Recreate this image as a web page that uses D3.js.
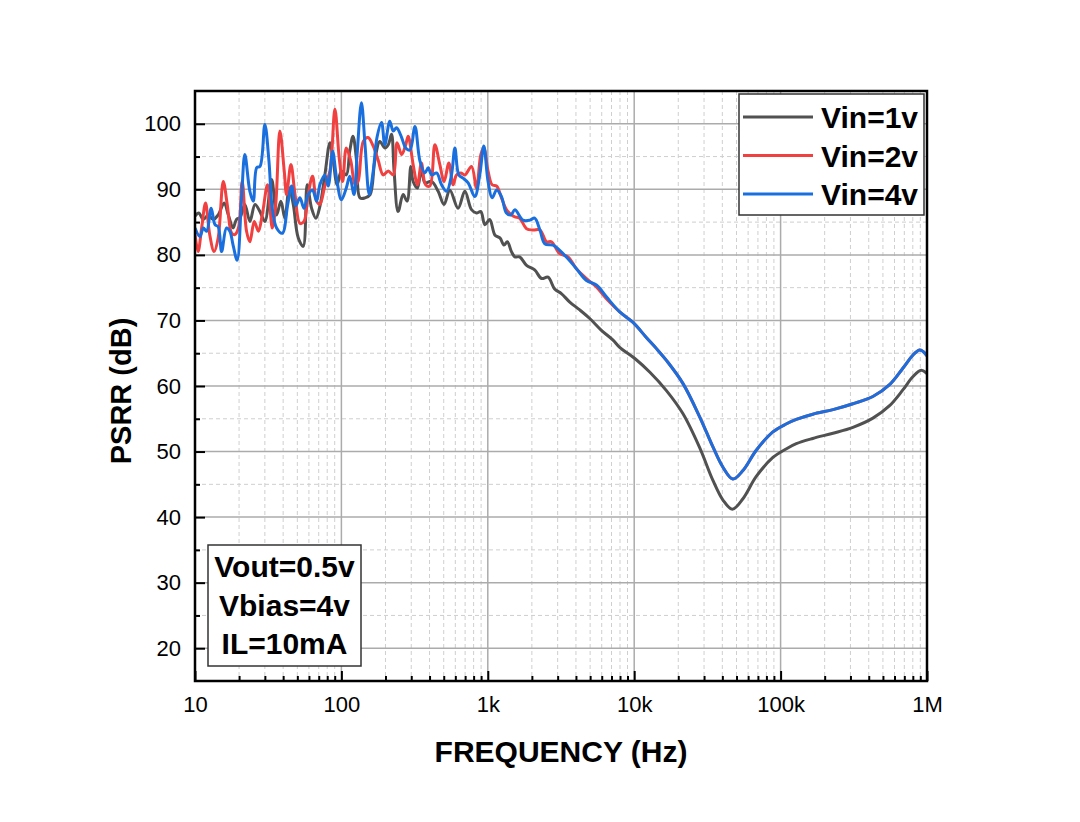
<!DOCTYPE html>
<html><head><meta charset="utf-8">
<script src="https://cdn.jsdelivr.net/npm/d3@7"></script>
<style>
html,body{margin:0;padding:0;background:#fff;}
svg text{font-family:Arial,"Liberation Sans",Helvetica,sans-serif;}
</style></head>
<body><svg id="chart" width="1080" height="822"></svg>
<script>
// ---------- data ----------
const seriesNames = ["Vin=1v", "Vin=2v", "Vin=4v"];
const seriesColors = ["#515151", "#F14040", "#1A6FDF"];

const freqV1 = [10,10.6,11.4,12.3,13.3,14.4,15.8,16.9,18.2,19.2,20.3,21.9,23.7,25.7,27.8,30.0,33.4,36.1,38.6,41.1,44.0,46.9,50.7,54.8,58.4,62.6,67.0,71.3,77.1,83.5,88.0,93.6,100,108,114,120,127,134,145,157,169,183,198,209,220,229,244,264,281,298,309,331,352,372,413,458,503,550,627,697,774,837,896,955,1030,1120,1210,1290,1360,1450,1530,1650,1840,2090,2330,2580,2860,3180,3630,4250,4970,5970,7170,7960,10100,12800,16600,21500,28000,34500,40400,46800,55300,68200,88600,109000,128000,166000,228000,312000,427000,555000,684000,800000,912000,1000000];
const psrrV1 = [85.9,86.4,85.4,86.1,85.4,86.1,87.9,86.1,84.1,85.4,85.7,87.7,85.1,87.7,86.6,85.1,91.5,86.1,88.2,85.6,90.2,87.7,82.6,81.3,90.7,87.1,85.6,87.4,92.2,97.1,94.3,90.7,92.8,92.2,95.8,98.1,94.3,88.7,88.7,89.2,94.3,97.3,96.3,96.8,98.4,92.8,86.6,89.2,88.2,93.5,91.2,90.2,93.3,91.0,91.2,89.7,87.7,89.9,87.1,89.7,86.9,86.4,86.6,84.6,85.4,83.0,82.6,81.5,82.0,80.5,79.7,79.7,78.4,77.7,76.4,76.6,74.8,74.1,72.8,71.6,70.3,68.5,67.0,65.9,64.2,62.1,59.3,55.8,50.6,45.6,42.6,41.2,42.8,46.2,49.1,50.4,51.2,52.0,52.8,53.7,55.1,57.0,59.4,61.4,62.4,61.9];

const freqV2 = [10,10.5,11.1,11.8,12.6,13.5,14.4,15.6,16.6,17.8,18.7,19.8,21.0,22.5,23.7,25.4,27.1,28.8,31.3,33.7,35.6,38.0,40.7,42.2,45.2,48.2,52.1,55.5,59.3,63.5,67.7,71.3,77.1,83.5,90.3,96.6,102,108,116,124,130,141,152,165,178,193,209,226,240,258,275,286,309,331,352,376,402,435,470,503,542,580,611,654,697,774,837,896,939,1004,1070,1150,1240,1340,1450,1530,1650,1840,2040,2270,2520,2720,3100,3530,4030,4720,5520,6460,7960,9820,12100,14200,16600,21500,28000,34500,40400,47200,55300,68200,88600,109000,128000,166000,228000,312000,427000,555000,684000,800000,889000,936000,1000000];
const psrrV2 = [83.1,80.5,84.1,87.9,83.1,80.5,82.6,91.2,87.7,83.3,83.1,84.1,91.2,83.6,82.0,85.1,83.6,86.1,90.7,84.1,87.7,98.9,92.8,89.2,93.8,89.2,84.8,85.1,89.2,92.0,88.2,87.7,90.5,92.8,102.2,94.8,91.2,96.3,94.3,90.7,91.2,97.3,97.9,96.6,94.5,92.2,92.8,92.2,97.1,95.3,96.8,98.1,93.8,90.7,94.0,90.7,90.5,96.8,93.8,91.2,94.0,90.7,92.2,92.5,92.2,93.5,90.2,95.3,96.3,92.8,90.7,90.5,88.7,86.9,86.1,85.8,85.6,84.0,83.8,83.8,82.0,82.0,80.2,79.7,77.9,76.4,75.1,73.3,71.3,69.7,67.4,65.7,63.9,60.4,55.3,50.7,47.6,45.8,47.1,50.2,53.0,54.2,54.9,55.7,56.4,57.3,58.4,60.2,62.7,64.7,65.5,65.3,64.6];

const freqV4 = [10,10.8,11.4,12.0,12.9,13.7,14.4,15.2,16.4,17.3,18.2,19.4,20.8,21.9,23.7,25.0,26.4,27.8,30.0,32.0,33.7,36.1,39.5,43.0,45.7,48.7,52.1,55.5,59.3,63.5,67.7,71.3,77.1,81.3,87.1,92.7,100,108,114,122,128,137,145,155,165,175,188,198,214,226,238,258,275,294,318,344,372,392,413,447,483,523,565,596,634,678,734,815,881,939,1004,1070,1150,1240,1340,1440,1530,1740,1940,2090,2270,2450,2790,3100,3530,4030,4720,5520,6460,7960,9820,12100,14200,16600,21500,28000,34500,40400,47200,55300,68200,88600,109000,128000,166000,228000,312000,427000,555000,684000,800000,889000,936000,1000000];
const psrrV4 = [84.1,82.8,84.1,83.6,87.1,84.6,84.3,80.5,84.1,83.6,81.5,79.2,88.7,95.3,89.7,88.2,93.3,93.5,99.9,94.3,87.1,84.1,83.3,87.7,90.5,87.5,88.7,87.1,89.2,89.9,88.2,90.7,92.2,90.5,95.8,91.7,88.4,90.2,92.0,89.2,95.3,103.2,96.8,89.2,92.8,97.9,100.2,96.8,100.4,98.9,99.4,97.9,96.3,96.0,99.6,94.3,92.5,93.3,92.2,92.5,90.7,89.7,92.2,96.3,92.2,91.7,91.0,88.9,92.2,96.6,91.2,88.7,89.9,88.9,86.4,86.1,86.9,85.3,85.3,85.6,83.8,81.7,81.5,80.7,79.4,77.9,76.1,75.4,73.6,71.3,69.7,67.4,65.7,63.9,60.4,55.3,50.7,47.6,45.8,47.1,50.2,53.0,54.2,54.9,55.7,56.4,57.3,58.4,60.2,62.7,64.7,65.5,65.3,64.6];

const xTickValues = [10, 100, 1000, 10000, 100000, 1000000];
const xTickLabels = ["10", "100", "1k", "10k", "100k", "1M"];
const yTickValues = [20, 30, 40, 50, 60, 70, 80, 90, 100];
const yMinorValues = [25, 35, 45, 55, 65, 75, 85, 95];
const noteLines = ["Vout=0.5v", "Vbias=4v", "IL=10mA"];
const xTitle = "FREQUENCY (Hz)";
const yTitle = "PSRR (dB)";

// ---------- layout ----------
const L = 195, R = 927, T = 91, B = 681;
const svg = d3.select("#chart");
const x = d3.scaleLog().domain([10, 1e6]).range([L, R]);
const y = d3.scaleLinear().domain([15, 105]).range([B, T]);

const xMinor = [];
for (let d = 10; d < 1e6; d *= 10) for (let k = 2; k <= 9; k++) xMinor.push(d * k);

// grid
const grid = svg.append("g");
grid.selectAll(".gxm").data(xMinor).join("line")
  .attr("x1", d => x(d)).attr("x2", d => x(d)).attr("y1", T).attr("y2", B)
  .attr("stroke", "#cfcfcf").attr("stroke-width", 1).attr("stroke-dasharray", "4,3");
grid.selectAll(".gym").data(yMinorValues).join("line")
  .attr("x1", L).attr("x2", R).attr("y1", d => y(d)).attr("y2", d => y(d))
  .attr("stroke", "#cfcfcf").attr("stroke-width", 1).attr("stroke-dasharray", "4,3");
grid.selectAll(".gxM").data(xTickValues.slice(1, -1)).join("line")
  .attr("x1", d => x(d)).attr("x2", d => x(d)).attr("y1", T).attr("y2", B)
  .attr("stroke", "#ababab").attr("stroke-width", 1.5);
grid.selectAll(".gyM").data(yTickValues).join("line")
  .attr("x1", L).attr("x2", R).attr("y1", d => y(d)).attr("y2", d => y(d))
  .attr("stroke", "#ababab").attr("stroke-width", 1.5);

// curves
svg.append("clipPath").attr("id", "clip").append("rect")
  .attr("x", L).attr("y", T).attr("width", R - L).attr("height", B - T);
const line = d3.line().x(d => x(d[0])).y(d => y(d[1])).curve(d3.curveCatmullRom.alpha(0.5));
const series = [
  d3.zip(freqV1, psrrV1),
  d3.zip(freqV2, psrrV2),
  d3.zip(freqV4, psrrV4)
];
const plot = svg.append("g").attr("clip-path", "url(#clip)");
series.forEach((s, i) => {
  plot.append("path").datum(s).attr("d", line)
    .attr("fill", "none").attr("stroke", seriesColors[i])
    .attr("stroke-width", 3).attr("stroke-linejoin", "round");
});

// axes
const xAxis = d3.axisBottom(x).tickValues(xTickValues)
  .tickFormat((d, i) => xTickLabels[i]).tickSize(-10).tickPadding(15);
const gx = svg.append("g").attr("transform", `translate(0,${B})`).call(xAxis);
const gxm = svg.append("g").attr("transform", `translate(0,${B})`)
  .call(d3.axisBottom(x).tickValues(xMinor).tickFormat("").tickSize(-5));
const yAxis = d3.axisLeft(y).tickValues(yTickValues).tickSize(-10).tickPadding(14);
const gy = svg.append("g").attr("transform", `translate(${L},0)`).call(yAxis);
const gym = svg.append("g").attr("transform", `translate(${L},0)`)
  .call(d3.axisLeft(y).tickValues(yMinorValues).tickFormat("").tickSize(-5));
[gx, gxm, gy, gym].forEach(g => {
  g.select(".domain").remove();
  g.selectAll(".tick line").attr("stroke", "#000").attr("stroke-width", 2);
  g.selectAll("text").attr("fill", "#000").attr("font-size", 22);
});

// frame
svg.append("rect").attr("x", L).attr("y", T).attr("width", R - L).attr("height", B - T)
  .attr("fill", "none").attr("stroke", "#000").attr("stroke-width", 2.5);

// titles
svg.append("text").attr("x", (L + R) / 2).attr("y", 762).attr("text-anchor", "middle")
  .attr("font-size", 30).attr("font-weight", "bold").text(xTitle);
svg.append("text").attr("transform", "translate(131,391) rotate(-90)").attr("text-anchor", "middle")
  .attr("font-size", 29).attr("font-weight", "bold").text(yTitle);

// legend
const lg = svg.append("g");
lg.append("rect").attr("x", 739).attr("y", 94).attr("width", 185).attr("height", 121)
  .attr("fill", "#fff").attr("stroke", "#333").attr("stroke-width", 1.5);
seriesNames.forEach((n, i) => {
  const cy = 117 + i * 38.5;
  lg.append("line").attr("x1", 743).attr("x2", 813).attr("y1", cy).attr("y2", cy)
    .attr("stroke", seriesColors[i]).attr("stroke-width", 3);
  lg.append("text").attr("x", 821).attr("y", cy + 11).attr("font-size", 30)
    .attr("font-weight", "bold").text(n);
});

// note box
const nb = svg.append("g");
nb.append("rect").attr("x", 208).attr("y", 545).attr("width", 153).attr("height", 121)
  .attr("fill", "#fff").attr("stroke", "#333").attr("stroke-width", 1.5);
noteLines.forEach((t, i) => {
  nb.append("text").attr("x", 284.5).attr("y", 577 + i * 38.5).attr("text-anchor", "middle")
    .attr("font-size", 30).attr("font-weight", "bold").text(t);
});
</script></body></html>
